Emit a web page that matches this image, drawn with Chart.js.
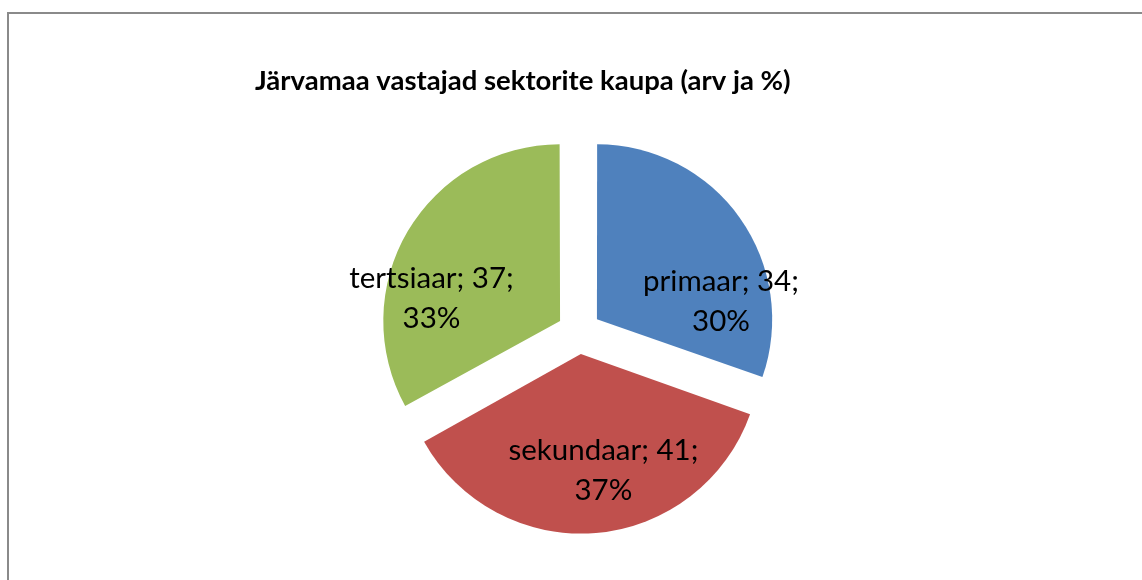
<!DOCTYPE html>
<html>
<head>
<meta charset="utf-8">
<script src="https://cdn.jsdelivr.net/npm/chart.js@4"></script>
<style>
  html, body { margin: 0; padding: 0; background: #fff; overflow: hidden; }
  #frame {
    position: absolute; left: 7px; top: 12px; width: 2000px; height: 2000px;
    border-left: 2px solid #8a8a8a; border-top: 2px solid #8a8a8a;
  }
  #chart { position: absolute; left: 0; top: 0; }
</style>
</head>
<body>
<div id="frame"></div>
<canvas id="chart" width="1142" height="580"></canvas>
<script>
const categories = ['primaar', 'sekundaar', 'tertsiaar'];
const counts = [34, 41, 37];
const sliceColors = ['#4F81BD', '#C0504D', '#9BBB59'];
const chartTitle = 'Järvamaa vastajad sektorite kaupa (arv ja %)';

// Excel-style "name; value; percent" labels inside the exploded slices
const sliceLabels = {
  id: 'sliceLabels',
  afterDatasetsDraw(chart, args, opts) {
    const ctx = chart.ctx;
    const meta = chart.getDatasetMeta(0);
    const total = counts.reduce((a, b) => a + b, 0);
    ctx.save();
    ctx.font = opts.font;
    ctx.fillStyle = '#000';
    ctx.textAlign = 'center';
    ctx.textBaseline = 'middle';
    meta.data.forEach((arc, i) => {
      const p = arc.getProps(['x', 'y', 'startAngle', 'endAngle', 'outerRadius']);
      const shift = (arc.options.offset || 0) / 4;
      const mid = (p.startAngle + p.endAngle) / 2;
      const cx = p.x + Math.cos(mid) * shift;
      const cy = p.y + Math.sin(mid) * shift;
      const a = (opts.angles[i] - 90) * Math.PI / 180;
      const d = p.outerRadius * opts.dist[i];
      const lx = cx + Math.cos(a) * d;
      const ly = cy + Math.sin(a) * d;
      const pct = Math.round(counts[i] / total * 100);
      ctx.fillText(categories[i] + '; ' + counts[i] + ';', lx, ly - opts.lineGap / 2);
      ctx.fillText(pct + '%', lx, ly + opts.lineGap / 2);
    });
    ctx.restore();
  }
};

new Chart(document.getElementById('chart'), {
  type: 'pie',
  data: {
    labels: categories,
    datasets: [{
      data: counts,
      backgroundColor: sliceColors,
      borderWidth: 0,
      offset: 88,
      hoverOffset: 88
    }]
  },
  options: {
    responsive: false,
    animation: false,
    radius: 174,
    layout: { padding: { left: 255, right: 239, top: 0, bottom: 22 } },
    plugins: {
      legend: { display: false },
      tooltip: { enabled: false },
      title: {
        display: true,
        text: chartTitle,
        align: 'start',
        color: '#000',
        font: { family: 'Lato', size: 27.5, weight: 'bold', lineHeight: 1.2 },
        padding: { top: 64.5, bottom: 8.7 }
      },
      sliceLabels: {
        font: '29.5px Lato',
        lineGap: 40,
        angles: [82, 169, 280],
        dist: [0.72, 0.68, 0.75]
      }
    }
  },
  plugins: [sliceLabels]
});
</script>
</body>
</html>
